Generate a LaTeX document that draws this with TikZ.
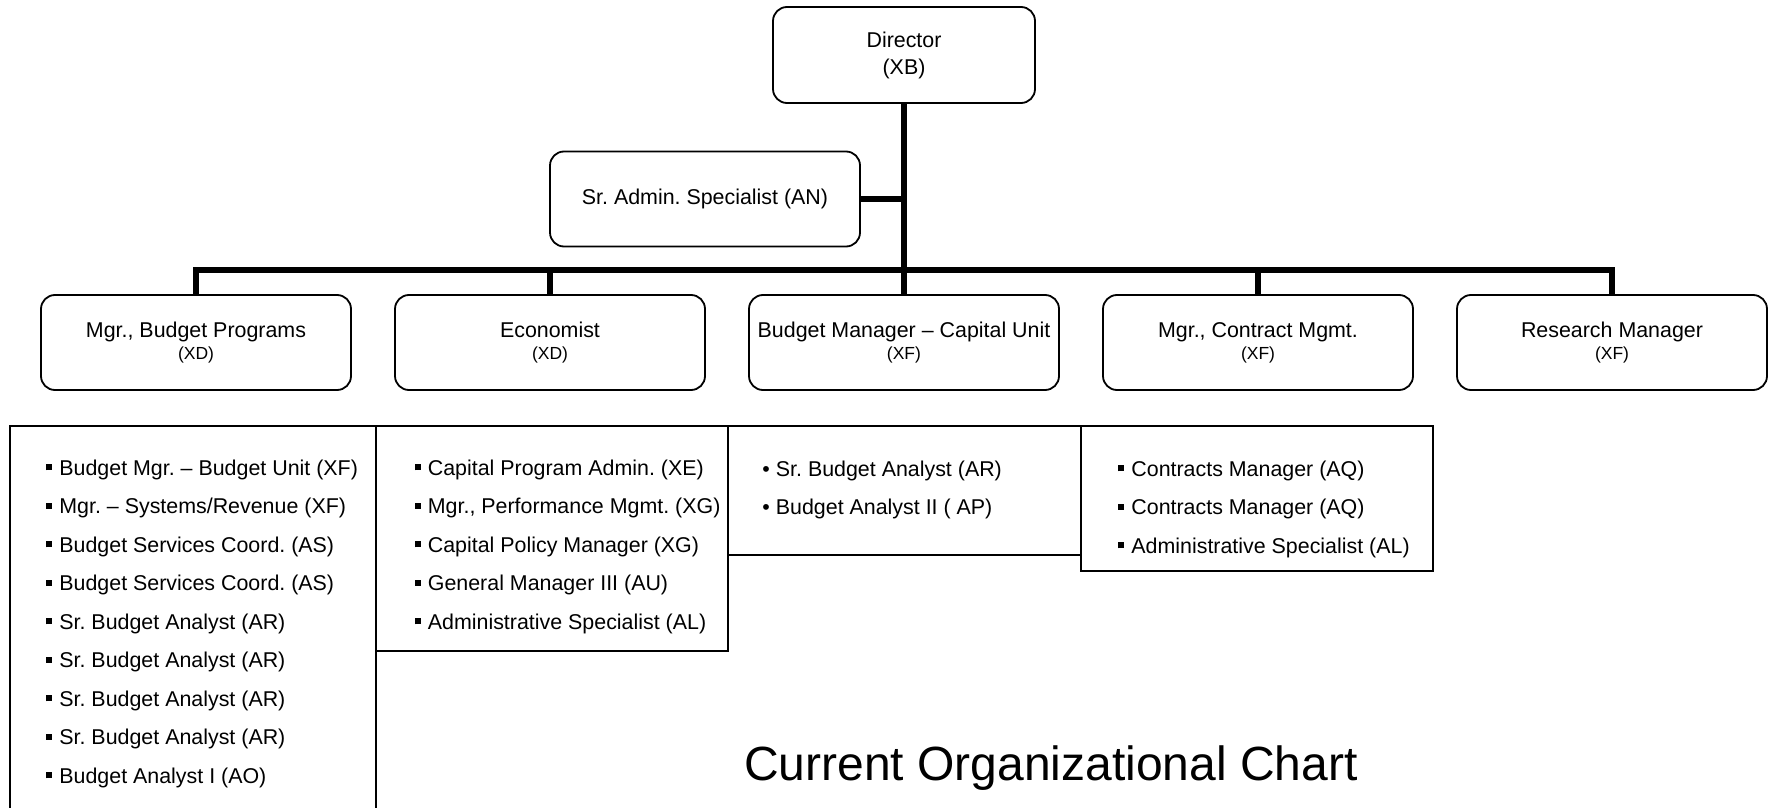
\documentclass[tikz,border=0pt]{standalone}
\usepackage{fontspec}
\setmainfont{Liberation Sans}
\frenchspacing
\newcommand{\sqbul}{\rule[0.22em]{0.28em}{0.28em}\hspace{3.5pt}}
\newcommand{\rndbul}{\textbullet\hspace{3pt}}
\newcommand{\codesz}{\fontsize{8.75}{11}\selectfont}
\begin{document}
\begin{tikzpicture}[x=0.5pt,y=-0.5pt,
    post/.style={draw,rounded corners=7pt,line width=0.9pt,align=center,
      minimum width=155pt,minimum height=47.5pt,inner sep=2pt,
      font=\fontsize{10.7}{11}\selectfont},
    link/.style={line width=2.8pt},
    list/.style={line width=0.7pt},
    item/.style={anchor=base west,inner sep=0pt,font=\fontsize{10.7}{13}\selectfont}]
  \useasboundingbox (0,0) rectangle (1773,808);
  \node[post,minimum width=131pt,minimum height=48pt] (dir) at (904,55) {Director\\[2.5pt](XB)};
  \node[post] (sradm) at (705,199) {Sr. Admin. Specialist (AN)};
  \node[post] (bud) at (196,342.5) {Mgr., Budget Programs\\{\codesz (XD)}};
  \node[post] (econ) at (550,342.5) {Economist\\{\codesz (XD)}};
  \node[post] (cap) at (904,342.5) {Budget Manager – Capital Unit\\{\codesz (XF)}};
  \node[post] (contr) at (1258,342.5) {Mgr., Contract Mgmt.\\{\codesz (XF)}};
  \node[post] (res) at (1612,342.5) {Research Manager\\{\codesz (XF)}};
  \coordinate (bus) at (904,270);
  \draw[link] (dir.south) -- (cap.north);
  \draw[link] (sradm.east) -- (sradm.east -| dir.south);
  \draw[link] (bud.north) -- (bud.north |- bus) -- (res.north |- bus) -- (res.north);
  \foreach \n in {econ,contr}
    \draw[link] (\n.north) -- (\n.north |- bus);
  \draw[list] (10,808) -- (10,426) -- (376,426) -- (376,808);
  \draw[list] (376,426) rectangle (728,651);
  \draw[list] (728,426) rectangle (1081,555);
  \draw[list] (1081,426) rectangle (1433,571);
  \foreach \txt [count=\i] in {{Budget Mgr. – Budget Unit (XF)},{Mgr. – Systems/Revenue (XF)},
      {Budget Services Coord. (AS)},{Budget Services Coord. (AS)},{Sr. Budget Analyst (AR)},
      {Sr. Budget Analyst (AR)},{Sr. Budget Analyst (AR)},{Sr. Budget Analyst (AR)},
      {Budget Analyst I (AO)}}
    \node[item] (bud\i) at (46,{475+38.5*(\i-1)}) {\sqbul\txt};
  \foreach \txt [count=\i] in {{Capital Program Admin. (XE)},{Mgr., Performance Mgmt. (XG)},
      {Capital Policy Manager (XG)},{General Manager III (AU)},{Administrative Specialist (AL)}}
    \node[item] (econ\i) at (414.5,{475+38.5*(\i-1)}) {\sqbul\txt};
  \foreach \txt [count=\i] in {{Sr. Budget Analyst (AR)},{Budget Analyst II ( AP)}}
    \node[item] (cap\i) at (762,{476+38.5*(\i-1)}) {\rndbul\txt};
  \foreach \txt [count=\i] in {{Contracts Manager (AQ)},{Contracts Manager (AQ)},
      {Administrative Specialist (AL)}}
    \node[item] (contr\i) at (1118,{476+38.5*(\i-1)}) {\sqbul\txt};
  \node[anchor=base,font=\fontsize{24}{28}\selectfont] (title) at (1051,780) {Current Organizational Chart};
\end{tikzpicture}
\end{document}
